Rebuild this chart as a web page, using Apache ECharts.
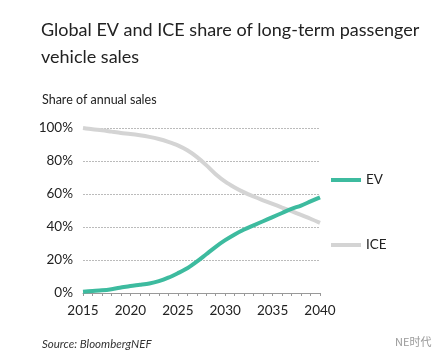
<!DOCTYPE html>
<html>
<head>
<meta charset="utf-8">
<script src="https://cdn.jsdelivr.net/npm/echarts@6/dist/echarts.min.js"></script>
<style>
  html, body { margin: 0; padding: 0; background: #fff; }
  #chart { width: 440px; height: 353px; }
</style>
</head>
<body>
<div id="chart"></div>
<script>
// años y cuotas (%)
const years = [2015, 2016, 2017, 2018, 2019, 2020, 2021, 2022, 2023, 2024, 2025, 2026, 2027,
  2028, 2029, 2030, 2031, 2032, 2033, 2034, 2035, 2036, 2037, 2038, 2039, 2040];
const evShare = [0.8, 1.2, 1.6, 2.3, 3.3, 4.3, 5.0, 5.8, 7.2, 9.3, 12, 15, 19,
  23.5, 28, 32, 35.5, 38.5, 41, 43.5, 46, 48.5, 51, 53, 55.5, 58];
const iceShare = [100, 99.2, 98.6, 97.8, 97, 96.4, 95.6, 94.6, 93.3, 91.6, 89.5, 86.5, 82.5,
  77.5, 72, 67.5, 64, 61, 58.5, 56.2, 54, 51.8, 49.6, 47.3, 45, 42.5];
const yTicks = [0, 20, 40, 60, 80, 100];

const colorEV = '#3dbb9f';
const colorICE = '#d4d4d4';
const fuente = "Lato, 'Noto Sans', sans-serif";

const chart = echarts.init(document.getElementById('chart'));

const option = {
  animation: false,
  textStyle: { fontFamily: fuente },
  title: [
    {
      text: 'Global EV and ICE share of long-term passenger\nvehicle sales',
      left: 36, top: 12,
      textStyle: { fontSize: 18, fontWeight: 'normal', color: '#222', lineHeight: 27, fontFamily: fuente }
    },
    {
      text: 'Share of annual sales',
      left: 37, top: 88,
      textStyle: { fontSize: 12.5, fontWeight: 'normal', color: '#222', fontFamily: fuente }
    },
    {
      text: 'Source: BloombergNEF',
      left: 37, top: 333,
      textStyle: { fontSize: 11.5, fontWeight: 'normal', fontStyle: 'italic', color: '#333', fontFamily: fuente }
    },
    {
      text: 'NE时代',
      left: 390, top: 331,
      textStyle: { fontSize: 11, fontWeight: 'normal', color: '#999', fontFamily: "'Noto Sans CJK SC', sans-serif" }
    }
  ],
  legend: [
    {
      data: ['EV'], left: 326, top: 168, icon: 'rect', itemWidth: 30, itemHeight: 4, itemGap: 0,
      textStyle: { fontSize: 13.5, color: '#222' }
    },
    {
      data: ['ICE'], left: 326, top: 233, icon: 'rect', itemWidth: 30, itemHeight: 4, itemGap: 0,
      textStyle: { fontSize: 13.5, color: '#222' }
    }
  ],
  grid: { left: 83, right: 120, top: 128, bottom: 60 },
  xAxis: {
    type: 'value', min: 2015, max: 2040, interval: 5,
    axisLine: { lineStyle: { color: '#999', width: 1 } },
    axisTick: { show: true, length: 3, lineStyle: { color: '#999' } },
    minorTick: { show: true, splitNumber: 5, length: 3, lineStyle: { color: '#999' } },
    splitLine: { show: false },
    axisLabel: { fontSize: 13.5, color: '#222', margin: 11, formatter: v => String(v) }
  },
  yAxis: {
    type: 'value', min: 0, max: 100, interval: 20,
    axisLine: { show: false },
    axisTick: { show: false },
    splitLine: { show: true, lineStyle: { color: '#bbb', type: [2, 1], width: 1 } },
    axisLabel: {
      fontSize: 13.5, color: '#222', margin: 10,
      formatter: v => yTicks.includes(v) ? v + '%' : ''
    }
  },
  series: [
    {
      name: 'EV', type: 'line', showSymbol: false, smooth: 0.3,
      lineStyle: { color: colorEV, width: 4 }, itemStyle: { color: colorEV },
      data: years.map((y, i) => [y, evShare[i]]), z: 3
    },
    {
      name: 'ICE', type: 'line', showSymbol: false, smooth: 0.3,
      lineStyle: { color: colorICE, width: 4 }, itemStyle: { color: colorICE },
      data: years.map((y, i) => [y, iceShare[i]]), z: 2
    }
  ]
};

chart.setOption(option);
</script>
</body>
</html>
